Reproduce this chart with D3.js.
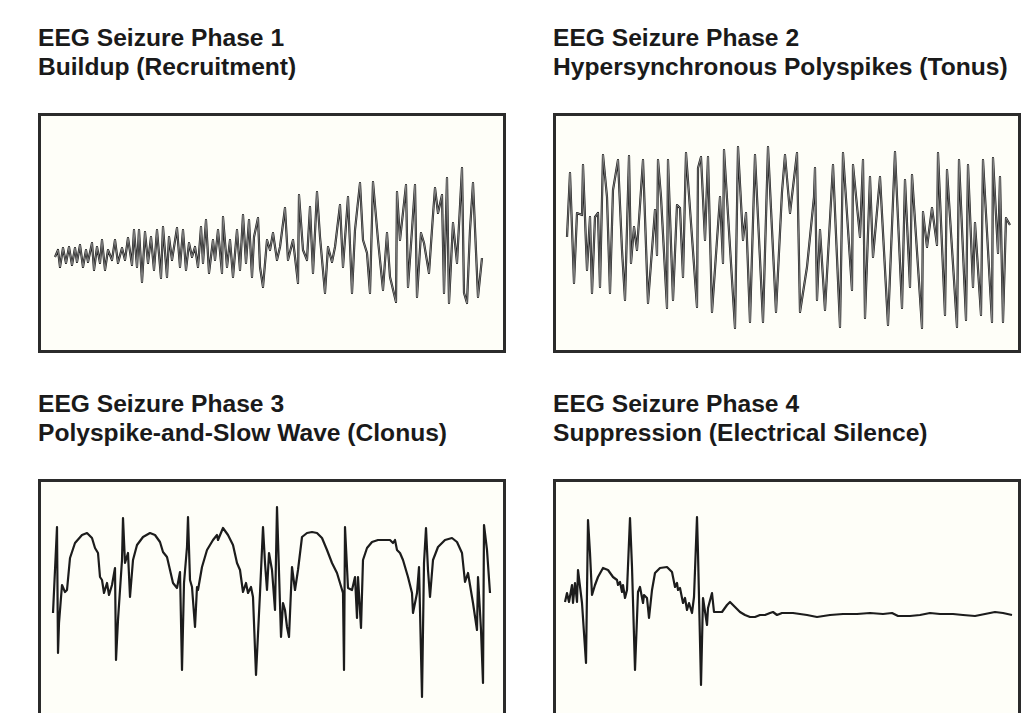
<!DOCTYPE html>
<meta charset="utf-8">
<style>
body { margin: 0; background: #fff; }
.title { font-family: "Liberation Sans", Arial, sans-serif; font-weight: 700; font-size: 24.6px; fill: #1a1a1a; }
.frame { fill: #fefef8; stroke: #2b2b2b; stroke-width: 3; }
.trace { fill: none; stroke: #1c1c1c; stroke-width: 2.2; stroke-linejoin: round; }
.glint { fill: none; stroke: #a8a8a8; stroke-width: 0.7; }
</style>
<body>
<svg width="1023" height="713"></svg>
<script src="https://d3js.org/d3.v7.min.js"></script>
<script>

// time in 10 ms steps, amplitude in uV
var phase1 = [[17,-24],[20,-17],[22,-34],[25,-15],[28,-30],[31,-14],[34,-32],[37,-15],[39,-29],[42,-12],
  [45,-34],[48,-17],[50,-29],[54,-10],[56,-37],[59,-14],[62,-30],[64,-7],[67,-37],[70,-17],[74,-27],[77,-7],
  [80,-30],[84,-15],[87,-27],[90,-5],[94,-32],[96,3],[99,-34],[101,3],[104,-49],[107,1],[110,-30],[113,-4],
  [116,-37],[119,3],[123,-45],[125,6],[129,-44],[131,-4],[134,-27],[139,5],[142,-34],[145,3],[148,-37],
  [151,-10],[154,-24],[157,-14],[160,-34],[163,6],[165,-30],[168,13],[171,-40],[175,-7],[177,-27],[180,3],
  [184,-40],[185,16],[189,-34],[192,-7],[195,-44],[199,3],[202,-37],[205,18],[208,-30],[211,13],[214,-44],
  [216,-4],[220,15],[222,-34],[225,-54],[229,-7],[232,-17],[235,0],[239,-27],[242,-14],[247,25],[250,-27],
  [255,-7],[260,-50],[261,38],[265,-17],[269,-27],[272,26],[275,-40],[279,41],[282,-4],[287,-60],[290,-14],
  [294,-29],[297,-14],[302,28],[305,-34],[310,36],[314,-60],[317,3],[322,50],[325,-7],[329,-20],[332,-60],
  [335,51],[340,-7],[345,-57],[349,0],[352,-44],[358,-69],[359,41],[362,-7],[368,48],[370,-54],[374,3],
  [377,48],[379,-64],[383,0],[386,-10],[391,-40],[395,18],[397,45],[400,20],[404,38],[406,-60],[409,55],
  [411,-70],[415,10],[419,-30],[424,65],[426,-60],[429,-70],[432,3],[435,50],[440,-64],[444,-25]];

var phase2 = [[14,-4],[17,60],[21,-50],[24,20],[29,18],[30,68],[34,-37],[37,16],[39,-60],[42,16],[45,20],
  [47,-54],[50,78],[54,36],[57,-60],[60,43],[65,73],[69,-17],[72,-67],[76,77],[78,-30],[81,6],[84,-17],
  [90,73],[95,-70],[102,23],[104,-22],[105,73],[108,36],[114,-75],[115,73],[120,-67],[124,28],[127,25],
  [130,-44],[133,80],[139,-4],[144,-74],[145,65],[148,76],[152,-7],[155,76],[159,-79],[167,36],[170,-30],
  [171,83],[182,-95],[185,86],[190,-7],[193,20],[197,-89],[202,78],[210,-89],[215,86],[223,-79],[229,41],
  [232,78],[237,20],[244,80],[247,-79],[254,-34],[261,36],[262,65],[264,-67],[267,3],[272,-77],[280,68],
  [287,-94],[290,80],[299,-57],[300,68],[307,-4],[310,73],[312,-85],[317,56],[320,-24],[327,56],[335,-92],
  [342,81],[349,-75],[352,53],[357,-54],[359,58],[369,-95],[370,21],[374,-14],[379,25],[384,-12],[385,80],
  [392,-82],[394,63],[404,-94],[406,73],[413,-87],[415,68],[420,-54],[422,10],[428,-82],[430,73],[439,-89],
  [440,75],[445,-20],[447,56],[450,-89],[453,15],[457,8]];

var phase3 = [[15,-14],[17,29],[19,72],[20,-54],[21,-24],[24,14],[27,7],[29,9],[32,41],[37,56],[44,64],
  [49,66],[54,61],[57,51],[60,46],[62,22],[64,19],[66,6],[69,16],[71,4],[74,14],[77,31],[78,-61],[80,-21],
  [84,39],[85,81],[87,36],[90,46],[92,2],[95,39],[99,54],[105,62],[112,66],[117,64],[122,57],[125,47],
  [129,42],[132,29],[135,16],[139,11],[142,27],[144,-71],[146,16],[149,52],[150,82],[152,19],[154,12],
  [157,-28],[159,12],[160,9],[164,32],[169,49],[175,59],[179,64],[180,59],[185,71],[190,64],[195,54],
  [199,36],[202,29],[205,7],[208,16],[210,6],[213,12],[215,2],[218,-76],[222,6],[225,72],[227,36],[229,9],
  [231,46],[234,29],[237,-11],[239,92],[243,-38],[245,-4],[247,-11],[249,-28],[251,-38],[254,32],[257,9],
  [260,29],[264,62],[269,66],[274,67],[279,66],[284,61],[289,49],[294,36],[299,26],[302,16],[305,6],
  [306,-71],[307,72],[310,11],[314,9],[317,22],[319,-19],[320,22],[323,-29],[325,39],[329,51],[334,57],
  [340,59],[347,59],[352,59],[355,56],[357,59],[359,49],[362,46],[365,39],[370,22],[374,6],[375,-14],
  [379,6],[381,32],[384,-98],[386,36],[388,71],[390,29],[392,2],[395,39],[400,52],[407,59],[414,61],
  [419,57],[424,46],[427,17],[430,26],[434,2],[435,-4],[439,-31],[440,22],[443,-31],[445,-84],[446,74],
  [449,49],[452,6]];

var phase4 = [[12,-3],[14,6],[16,-3],[19,14],[20,-4],[22,16],[24,-3],[25,29],[29,-4],[33,-64],[35,79],
  [37,46],[39,4],[42,14],[45,22],[50,31],[55,29],[60,22],[64,19],[65,14],[67,17],[69,7],[70,14],[72,1],
  [74,9],[77,81],[79,32],[82,-71],[85,7],[87,12],[90,-4],[91,4],[94,1],[96,-19],[99,9],[102,26],[107,31],
  [114,32],[119,27],[122,12],[124,16],[125,9],[127,11],[130,-4],[132,1],[134,-11],[136,-4],[139,-14],
  [141,2],[144,82],[145,46],[148,-86],[150,1],[154,-26],[155,-9],[159,6],[161,-13],[164,-13],[169,-13],
  [174,-6],[177,-3],[182,-8],[187,-13],[192,-16],[197,-18],[202,-18],[207,-16],[212,-16],[217,-14],
  [220,-13],[224,-16],[229,-14],[232,-14],[240,-14],[254,-16],[264,-18],[277,-16],[290,-15],[304,-15],
  [317,-14],[330,-15],[339,-14],[345,-17],[357,-17],[367,-16],[377,-14],[387,-15],[400,-15],[410,-16],
  [422,-17],[432,-15],[442,-13],[450,-14],[459,-16]];

var titles = [
  ["EEG Seizure Phase 1", "Buildup (Recruitment)"],
  ["EEG Seizure Phase 2", "Hypersynchronous Polyspikes (Tonus)"],
  ["EEG Seizure Phase 3", "Polyspike-and-Slow Wave (Clonus)"],
  ["EEG Seizure Phase 4", "Suppression (Electrical Silence)"]
];

var traces = [phase1, phase2, phase3, phase4];

var svg = d3.select("svg");

var panelW = 468, panelH = 240;
var origins = [[38,113],[553,113],[38,479],[553,479]];

var x = d3.scaleLinear().domain([0,468]).range([0,panelW]);
var y = d3.scaleLinear().domain([-120,120]).range([panelH,0]);

var line = d3.line()
	.x(function(d){ return x(d[0]); })
	.y(function(d){ return y(d[1]); });

traces.forEach(function(data, i){
	var g = svg.append("g")
		.attr("transform", "translate(" + origins[i][0] + "," + origins[i][1] + ")");

	g.append("text")
		.attr("class","title")
		.attr("x", 0)
		.attr("y", -67)
		.text(titles[i][0]);
	g.append("text")
		.attr("class","title")
		.attr("x", 0)
		.attr("y", -38)
		.text(titles[i][1]);

	g.append("rect")
		.attr("class","frame")
		.attr("x", 1.5)
		.attr("y", 1.5)
		.attr("width", panelW - 3)
		.attr("height", panelH - 3);

	g.append("path")
		.attr("class","trace")
		.attr("d", line(data));

	if(i < 2){
		g.append("path")
			.attr("class","glint")
			.attr("d", line(data));
	}
});

</script>
</body>
</html>
